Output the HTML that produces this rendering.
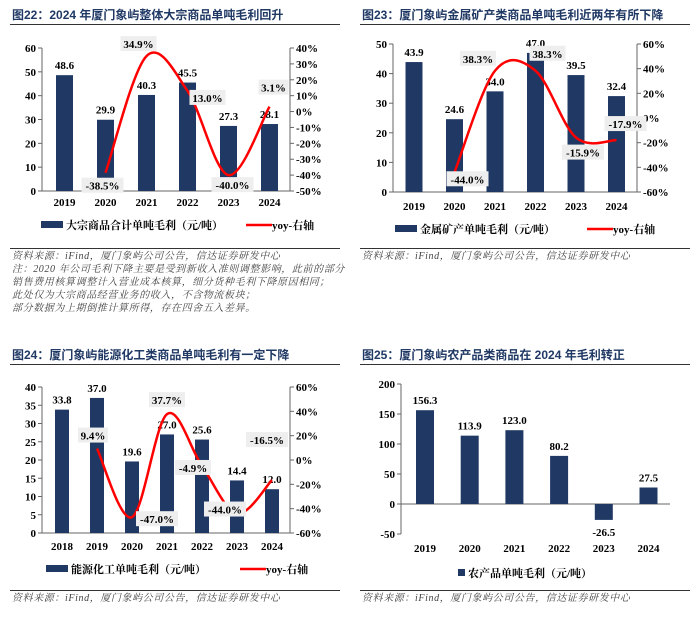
<!DOCTYPE html>
<html><head><meta charset="utf-8">
<style>
html,body{margin:0;padding:0;background:#fff;}
svg{display:block;}
.t{font-family:"Liberation Serif","Noto Serif CJK SC",serif;font-weight:bold;fill:#000;}
.ttl{font-family:"Liberation Sans","Noto Sans CJK SC",sans-serif;font-weight:bold;fill:#1f3864;font-size:12px;}
.note{font-family:"Liberation Serif","Noto Serif CJK SC",serif;font-style:italic;fill:#444;font-size:10px;letter-spacing:0.6px;}
</style></head>
<body>
<svg id="s" width="700" height="617" viewBox="0 0 700 617" xmlns="http://www.w3.org/2000/svg">
<text class="ttl" x="12" y="19">图22：2024 年厦门象屿整体大宗商品单吨毛利回升</text>
<text class="ttl" x="362" y="19">图23：厦门象屿金属矿产类商品单吨毛利近两年有所下降</text>
<text class="ttl" x="12" y="359">图24：厦门象屿能源化工类商品单吨毛利有一定下降</text>
<text class="ttl" x="362" y="359">图25：厦门象屿农产品类商品在 2024 年毛利转正</text>
<g stroke="#333" stroke-width="1">
<line x1="10" y1="24.5" x2="340" y2="24.5"/><line x1="360" y1="24.5" x2="690" y2="24.5"/>
<line x1="10" y1="364.5" x2="340" y2="364.5"/><line x1="360" y1="364.5" x2="690" y2="364.5"/>
<line x1="10" y1="248.5" x2="340" y2="248.5"/><line x1="360" y1="248.5" x2="690" y2="248.5"/>
<line x1="10" y1="590.5" x2="340" y2="590.5"/><line x1="360" y1="590.5" x2="690" y2="590.5"/>
</g>
<text class="note" x="12" y="259">资料来源：iFind，厦门象屿公司公告，信达证券研发中心</text>
<text class="note" x="12" y="272">注：2020 年公司毛利下降主要是受到新收入准则调整影响，此前的部分</text>
<text class="note" x="12" y="285">销售费用核算调整计入营业成本核算，细分货种毛利下降原因相同；</text>
<text class="note" x="12" y="298">此处仅为大宗商品经营业务的收入，不含物流板块；</text>
<text class="note" x="12" y="311">部分数据为上期倒推计算所得，存在四舍五入差异。</text>
<text class="note" x="362" y="259">资料来源：iFind，厦门象屿公司公告，信达证券研发中心</text>
<text class="note" x="12" y="601">资料来源：iFind，厦门象屿公司公告，信达证券研发中心</text>
<text class="note" x="362" y="601">资料来源：iFind，厦门象屿公司公告，信达证券研发中心</text>
</svg>
<script>
const years1 = ["2019","2020","2021","2022","2023","2024"];
const bars1 = [48.6,29.9,40.3,45.5,27.3,28.1];
const yoy1 = [null,-38.5,34.9,13.0,-40.0,3.1];
const leftTicks1 = [0,10,20,30,40,50,60];
const rightTicks1 = [-50,-40,-30,-20,-10,0,10,20,30,40];

const years2 = ["2019","2020","2021","2022","2023","2024"];
const bars2 = [43.9,24.6,34.0,47.0,39.5,32.4];
const yoy2 = [null,-44.0,38.3,38.3,-15.9,-17.9];
const leftTicks2 = [0,10,20,30,40,50];
const rightTicks2 = [-60,-40,-20,0,20,40,60];

const years3 = ["2018","2019","2020","2021","2022","2023","2024"];
const bars3 = [33.8,37.0,19.6,27.0,25.6,14.4,12.0];
const yoy3 = [null,9.4,-47.0,37.7,-4.9,-44.0,-16.5];
const leftTicks3 = [0,5,10,15,20,25,30,35,40];
const rightTicks3 = [-60,-40,-20,0,20,40,60];

const years4 = ["2019","2020","2021","2022","2023","2024"];
const bars4 = [156.3,113.9,123.0,80.2,-26.5,27.5];
const leftTicks4 = [-50,0,50,100,150,200];

const S = document.getElementById('s');
const NS = 'http://www.w3.org/2000/svg';
function mk(tag, attrs, parent){
  const e = document.createElementNS(NS, tag);
  for (const k in attrs) e.setAttribute(k, attrs[k]);
  (parent||S).appendChild(e); return e;
}
function txt(parent, x, y, s, size, anchor){
  const e = mk('text', {x:x, y:y, 'font-size':size, 'text-anchor':anchor||'middle', class:'t'}, parent);
  e.textContent = s; return e;
}
function spline(pts){
  let d = 'M'+pts[0][0]+','+pts[0][1];
  for (let i=0;i<pts.length-1;i++){
    const p0=pts[i-1]||pts[i], p1=pts[i], p2=pts[i+1], p3=pts[i+2]||p2;
    const c1=[p1[0]+(p2[0]-p0[0])/6, p1[1]+(p2[1]-p0[1])/6];
    const c2=[p2[0]-(p3[0]-p1[0])/6, p2[1]-(p3[1]-p1[1])/6];
    d+=' C'+c1[0]+','+c1[1]+' '+c2[0]+','+c2[1]+' '+p2[0]+','+p2[1];
  }
  return d;
}
function draw(c){
  const g = mk('g', {});
  
  
  const lmin=c.lt[0], lmax=c.lt[c.lt.length-1];
  const yL = v => c.bot - (v-lmin)/(lmax-lmin)*(c.bot-c.top);
  const xC = i => c.x0 + i*c.step;
  let yR = null;
  mk('line',{x1:c.ax,y1:c.top,x2:c.ax,y2:c.bot,stroke:'#666'},g);
  c.lt.forEach(v=>{
    const y=yL(v);
    mk('line',{x1:c.ax-4,y1:y,x2:c.ax,y2:y,stroke:'#666'},g);
    const t=txt(g,c.ax-6,y+4,String(v),11,'end');
    
    
  });
  const zy = yL(0);
  mk('line',{x1:c.ax,y1:zy,x2:c.axEnd,y2:zy,stroke:'#666'},g);
  if (c.rt){
    const rmin=c.rt[0], rmax=c.rt[c.rt.length-1];
    yR = v => c.bot - (v-rmin)/(rmax-rmin)*(c.bot-c.top);
    mk('line',{x1:c.axEnd,y1:c.top,x2:c.axEnd,y2:c.bot,stroke:'#666'},g);
    c.rt.forEach(v=>{
      const y=yR(v);
      mk('line',{x1:c.axEnd,y1:y,x2:c.axEnd+4,y2:y,stroke:'#666'},g);
      const t=txt(g,c.axEnd+6,y+4,v+'%',11,'start');
      
      
    });
  }
  c.years.forEach((yr,i)=>{
    const v=c.bars[i], x=xC(i);
    const y1=Math.min(yL(v),zy), h=Math.abs(yL(v)-zy);
    const r=mk('rect',{x:x-c.bw/2,y:y1,width:c.bw,height:h,fill:'#1f3864'},g);
    
    
    const ly = v>=0 ? yL(v)-6 : yL(v)+16;
    const vl=txt(g,x,ly,v.toFixed(1),11);
    
    
    const xl=txt(g,x,c.xlab,yr,11);
    
    
  });
  if (c.yoy){
    const pts=[];
    c.yoy.forEach((v,i)=>{ if(v!==null) pts.push([xC(i),yR(v),v,i]); });
    const p=mk('path',{d:spline(pts),fill:'none',stroke:'#ff0000','stroke-width':2.5},g);
    
    
    pts.forEach((pt,k)=>{
      const off=c.off[k];
      const bx=pt[0]+off[0], by=pt[1]+off[1];
      const s=pt[2].toFixed(1)+'%';
      const w=s.length*6+6;
      const b=mk('rect',{x:bx-w/2,y:by-9,width:w,height:15,fill:'#eeeeee'},g);
      
      
      const t=txt(g,bx,by+3,s,11);
      
      
    });
  }
  const lg=mk('g',{},g);
  
  
  mk('rect',{x:c.legX,y:c.legY-5,width:c.legW,height:7,fill:'#1f3864'},lg);
  const lt=mk('text',{x:c.legX+c.legW+3,y:c.legY+3,'font-size':11,class:'t'},lg);
  lt.textContent=c.legend;
  if (c.yoy){
    mk('line',{x1:c.leg2X,y1:c.legY-1,x2:c.leg2X+26,y2:c.legY-1,stroke:'#ff0000','stroke-width':2.5},lg);
    const l2=mk('text',{x:c.leg2X+26,y:c.legY+3,'font-size':11,class:'t'},lg);
    l2.textContent='yoy-右轴';
  }
}
draw({name:'chart22',years:years1,bars:bars1,yoy:yoy1,lt:leftTicks1,rt:rightTicks1,
  ax:42,axEnd:290,top:48,bot:191,x0:64.5,step:41,bw:17,xlab:206,
  off:[[-3,14],[-8,-11],[20,8],[4,11],[4,-18]],
  legend:'大宗商品合计单吨毛利（元/吨）',legX:41,legY:226,legW:22,leg2X:246});
draw({name:'chart23',years:years2,bars:bars2,yoy:yoy2,lt:leftTicks2,rt:rightTicks2,
  ax:393,axEnd:637,top:44,bot:192,x0:414,step:40.5,bw:17,xlab:210,
  off:[[13,8],[-17,-11],[12,-16],[7,16],[9,-15]],
  legend:'金属矿产单吨毛利（元/吨）',legX:395,legY:230,legW:22,leg2X:587});
draw({name:'chart24',years:years3,bars:bars3,yoy:yoy3,lt:leftTicks3,rt:rightTicks3,
  ax:42,axEnd:290,top:387,bot:533,x0:62,step:35,bw:14,xlab:550,
  off:[[-4,-12],[25,3],[0,-13],[-9,3],[-12,-3],[-5,-39]],
  legend:'能源化工单吨毛利（元/吨）',legX:46,legY:570,legW:22,leg2X:240});
draw({name:'chart25',years:years4,bars:bars4,lt:leftTicks4,
  ax:401,axEnd:670,top:384,bot:534,x0:425,step:44.7,bw:18,xlab:552,
  legend:'农产品单吨毛利（元/吨）',legX:458,legY:574,legW:7});
</script>
</body></html>
